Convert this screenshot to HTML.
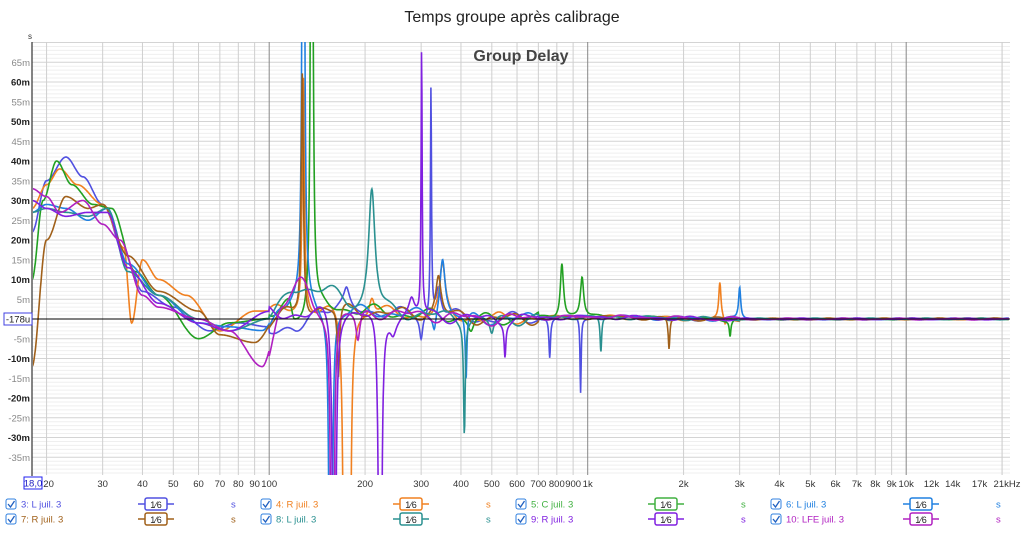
<!DOCTYPE html>
<html><head><meta charset="utf-8"><style>
body{margin:0;width:1024px;height:542px;background:#fff;overflow:hidden;font-family:"Liberation Sans",sans-serif}
svg{position:absolute;left:0;top:0}
</style></head><body>
<svg id="s" width="1024" height="542" xmlns="http://www.w3.org/2000/svg" font-family="Liberation Sans, sans-serif">
<defs><clipPath id="c"><rect x="33" y="42" width="977" height="433"/></clipPath></defs>
<text x="512" y="22" font-size="16" text-anchor="middle" fill="#222">Temps groupe après calibrage</text>
<g id="grid"></g>
<text x="521" y="61" font-size="16" font-weight="bold" text-anchor="middle" fill="#444">Group Delay</text>
<g id="curves" clip-path="url(#c)" fill="none" stroke-width="1.6"></g>
<line x1="32" y1="319" x2="1010" y2="319" stroke="#000" stroke-width="1"/>
<line x1="32" y1="42" x2="32" y2="476" stroke="#333" stroke-width="1.2"/>
<text x="28" y="39" font-size="8" fill="#333">s</text>
<rect x="4" y="313" width="28" height="12" fill="#fff" stroke="#4040e0"/>
<text x="18" y="322.5" font-size="9.5" text-anchor="middle" fill="#222">-178u</text>
<rect x="24" y="477" width="18" height="12" fill="#fff" stroke="#2020f0"/>
<text x="33" y="486.5" font-size="9.5" text-anchor="middle" fill="#2020c0">18,0</text>
<g id="lab" font-size="9.5" fill="#333"></g>
<g id="leg" font-size="9.5"></g>
</svg>
<script>
const NS="http://www.w3.org/2000/svg";
function X(f){return 32+318.5*Math.log10(f/18);}
function Y(m){return 319-3.95*m;}
function el(p,t,a,txt){const e=document.createElementNS(NS,t);for(const k in a)e.setAttribute(k,a[k]);if(txt!=null)e.textContent=txt;p.appendChild(e);return e;}
const g=document.getElementById('grid'),lab=document.getElementById('lab');
for(let m=-39;m<=70;m++){el(g,'line',{x1:32,x2:1010,y1:Y(m),y2:Y(m),stroke:m%5==0?'#d4d4d4':'#efefef','stroke-width':1});}
let fs=[];for(let d=10;d<=10000;d*=10)for(let k=1;k<10;k++)fs.push(k*d);fs.push(20000);
fs.forEach(f=>{if(f<19)return;const maj=(f==100||f==1000||f==10000);el(g,'line',{x1:X(f),x2:X(f),y1:42,y2:475,stroke:maj?'#888':'#cfcfcf','stroke-width':1});});
const xl=[[20,'20'],[30,'30'],[40,'40'],[50,'50'],[60,'60'],[70,'70'],[80,'80'],[90,'90'],[100,'100'],[200,'200'],[300,'300'],[400,'400'],[500,'500'],[600,'600'],[700,'700'],[800,'800'],[900,'900'],[1000,'1k'],[2000,'2k'],[3000,'3k'],[4000,'4k'],[5000,'5k'],[6000,'6k'],[7000,'7k'],[8000,'8k'],[9000,'9k'],[10000,'10k'],[12000,'12k'],[14000,'14k'],[17000,'17k']];
xl.forEach(([f,t])=>el(lab,'text',{x:X(f)+(f==20?2:0),y:487,'text-anchor':'middle'},t));
el(lab,'text',{x:1007,y:487,'text-anchor':'middle'},'21kHz');
for(let m=-35;m<=65;m+=5){if(m==0)continue;const b=(m%10==0);el(lab,'text',{x:30,y:Y(m)+3.5,'text-anchor':'end',fill:b?'#222':'#888','font-weight':b?'bold':'normal'},m+'m');}
const base=[[18,22],[20,32],[22,39],[25,33],[27,27],[30,28],[33,25],[36,15],[40,8],[45,5],[50,4],[60,1],[70,-3],[80,-1],[90,1],[100,2],[120,0],[150,3],[200,2],[300,1],[500,0],[1000,0.5],[3000,0],[21000,0]];
function interp(pts,f){const l=Math.log10(f);for(let i=0;i<pts.length-1;i++){const a=Math.log10(pts[i][0]),b=Math.log10(pts[i+1][0]);if(l>=a&&l<=b){let t=(l-a)/(b-a);t=t*t*(3-2*t);return pts[i][1]+(pts[i+1][1]-pts[i][1])*t;}}return 0;}
const S=[
{c:'#5050e0',o:[[18,22],[20,35],[23,41],[26,36],[30,29],[36,14],[40,7],[50,3],[65,-3],[80,-1],[100,-2],[120,-4],[140,2]],sp:[[300,-6,.006],[322,58,.002],[340,8,.01],[760,-10,.003],[950,-19,.002],[175,4,.01]],ph:0},
{c:'#f08020',o:[[18,28],[20,34],[22,38],[25,34],[30,29],[35,18],[37,-1],[40,15],[45,10],[55,6],[70,-3],[90,2],[120,2]],sp:[[128,60,.004],[173,-250,.003],[178,-250,.003],[210,5,.01],[350,12,.01],[2600,9,.004],[2700,-2,.004]],ph:1},
{c:'#22a022',o:[[18,10],[19.5,30],[21.5,40],[24,34],[28,29],[32,28],[38,12],[45,6],[60,-5],[75,-1],[100,0],[115,5]],sp:[[136,250,.003],[830,14,.006],[960,10,.006],[2800,-4,.003],[430,-3,.01]],ph:2},
{c:'#2080e0',o:[[18,27],[20,29],[23,28],[27,25],[31,28],[36,14],[45,6],[60,-1],[75,-2],[95,-3],[110,3],[120,5]],sp:[[128,250,.003],[156,-250,.003],[350,15,.01],[415,-17,.003],[3000,8,.004],[330,-4,.006]],ph:3},
{c:'#a0601a',o:[[18,-12],[20,20],[23,31],[27,28],[30,29],[36,16],[45,7],[60,2],[70,-4],[90,-6],[110,2]],sp:[[127,62,.004],[165,-18,.004],[340,10,.01],[1800,-8,.003]],ph:4},
{c:'#2a9090',o:[[18,27],[20,28],[23,27],[27,26],[31,28],[36,12],[45,6],[60,0],[75,-3],[100,0],[120,8],[150,7]],sp:[[210,31,.012],[410,-28,.003],[500,-4,.008],[1100,-9,.003]],ph:5},
{c:'#8020e0',o:[[18,30],[20,28],[23,26],[27,27],[31,27],[36,13],[45,4],[60,-1],[75,-3],[100,2],[130,1]],sp:[[160,-250,.003],[223,-250,.003],[301,68,.002],[245,-3,.01],[280,4,.01],[550,-8,.003]],ph:6},
{c:'#b020c0',o:[[18,33],[20,31],[22,27],[26,30],[30,24],[34,20],[40,6],[45,3],[60,0],[75,-3],[95,-12],[110,3],[125,10],[140,3]],sp:[[158,-250,.003],[190,-8,.008]],ph:7}];
const cg=document.getElementById('curves');
S.forEach(s=>{const pts=s.o.concat(base.filter(p=>p[0]>s.o[s.o.length-1][0]));let d='';
for(let i=0;i<=2400;i++){const l=Math.log10(18)+(Math.log10(21000)-Math.log10(18))*i/2400;const f=Math.pow(10,l);let v=interp(pts,f);
if(f>100){const a=(f<700?1.8:0.6)*(f<3000?1:0.4);v+=a*(Math.sin(l*37+s.ph*1.7)*0.6+Math.sin(l*71+s.ph*2.9)*0.4);}
s.sp.forEach(([f0,a,w])=>{const u=(l-Math.log10(f0))/w;v+=a/(1+u*u);});
v=Math.max(-60,Math.min(90,v));d+=(i?'L':'M')+X(f).toFixed(1)+' '+Y(v).toFixed(1);}
el(cg,'path',{d:d,stroke:s.c});});
const L=[[5,504,'3: L juil. 3','#5050e0'],[260,504,'4: R juil. 3','#f08020'],[515,504,'5: C juil. 3','#40b040'],[770,504,'6: L juil. 3','#2080e0'],
[5,519,'7: R juil. 3','#a0601a'],[260,519,'8: L juil. 3','#2a9090'],[515,519,'9: R juil. 3','#8020e0'],[770,519,'10: LFE juil. 3','#b020c0']];
const lg=document.getElementById('leg');
L.forEach(([x,y,t,c])=>{el(lg,'rect',{x:x+1,y:y-5,width:10,height:10,rx:2,fill:'#fff',stroke:'#3080e0'});
el(lg,'path',{d:`M${x+3} ${y} l2.5 3 l4 -6`,stroke:'#2060c0',fill:'none','stroke-width':1.3});
el(lg,'text',{x:x+16,y:y+3.5,fill:c},t);
el(lg,'line',{x1:x+133,x2:x+169,y1:y,y2:y,stroke:c,'stroke-width':1.5});
el(lg,'rect',{x:x+140,y:y-6,width:22,height:12,rx:2,fill:'#fff',stroke:c,'stroke-width':1.5});
el(lg,'text',{x:x+151,y:y+4,'text-anchor':'middle',fill:'#222','font-size':9},'1⁄6');
el(lg,'text',{x:x+226,y:y+3.5,fill:c},'s');});
</script>
</body></html>
